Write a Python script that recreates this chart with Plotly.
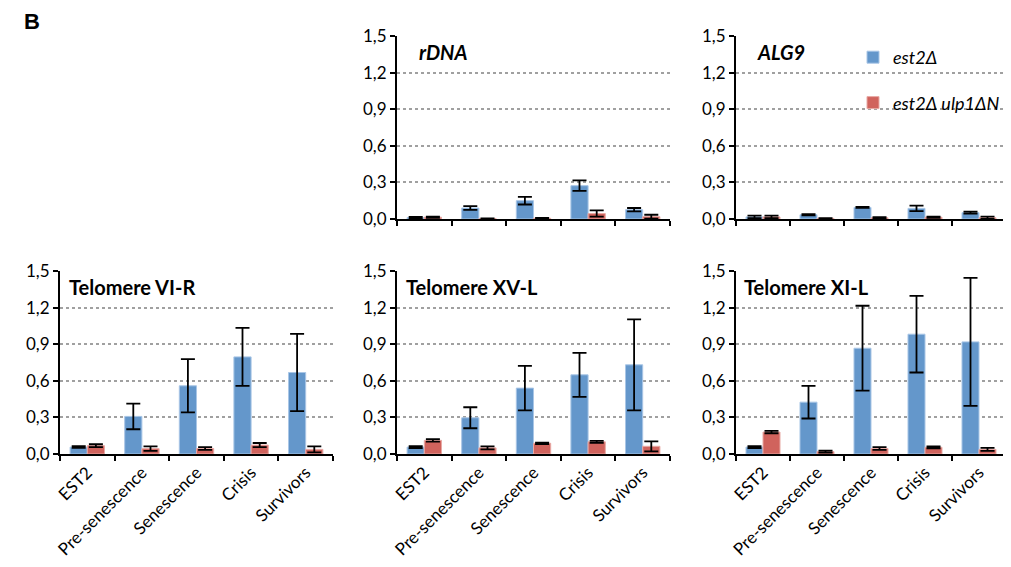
import plotly.graph_objects as go

categories = ["EST2", "Pre-senescence", "Senescence", "Crisis", "Survivors"]
series_names = ["est2Δ", "est2Δ ulp1ΔN"]

panel_titles = ["rDNA", "ALG9", "Telomere VI-R", "Telomere XV-L", "Telomere XI-L"]

rdna_est2 = [0.012, 0.09, 0.15, 0.273, 0.076]
rdna_est2_err = [0.005, 0.015, 0.031, 0.043, 0.014]
rdna_ulp1 = [0.015, 0.003, 0.006, 0.045, 0.019]
rdna_ulp1_err = [0.005, 0.002, 0.003, 0.026, 0.016]

alg9_est2 = [0.017, 0.035, 0.095, 0.087, 0.052]
alg9_est2_err = [0.01, 0.005, 0.004, 0.022, 0.008]
alg9_ulp1 = [0.017, 0.005, 0.01, 0.015, 0.01]
alg9_ulp1_err = [0.01, 0.002, 0.005, 0.005, 0.01]

vir_est2 = [0.057, 0.308, 0.559, 0.796, 0.668]
vir_est2_err = [0.007, 0.105, 0.218, 0.238, 0.316]
vir_ulp1 = [0.068, 0.044, 0.045, 0.073, 0.038]
vir_ulp1_err = [0.012, 0.019, 0.012, 0.017, 0.025]

xvl_est2 = [0.057, 0.297, 0.54, 0.649, 0.731]
xvl_est2_err = [0.008, 0.086, 0.183, 0.18, 0.373]
xvl_ulp1 = [0.112, 0.05, 0.088, 0.1, 0.063]
xvl_ulp1_err = [0.01, 0.012, 0.006, 0.008, 0.041]

xil_est2 = [0.057, 0.425, 0.867, 0.982, 0.919]
xil_est2_err = [0.008, 0.134, 0.348, 0.314, 0.524]
xil_ulp1 = [0.18, 0.02, 0.045, 0.055, 0.038]
xil_ulp1_err = [0.01, 0.008, 0.012, 0.008, 0.012]

y_ticks = [0.0, 0.3, 0.6, 0.9, 1.2, 1.5]

panels = [
    (rdna_est2, rdna_est2_err, rdna_ulp1, rdna_ulp1_err),
    (alg9_est2, alg9_est2_err, alg9_ulp1, alg9_ulp1_err),
    (vir_est2, vir_est2_err, vir_ulp1, vir_ulp1_err),
    (xvl_est2, xvl_est2_err, xvl_ulp1, xvl_ulp1_err),
    (xil_est2, xil_est2_err, xil_ulp1, xil_ulp1_err),
]

# page body has an 8px margin; lay out in window pixels and convert
OFF = 8
W, H = 1011 - OFF, 567 - OFF


def px(x):
    return (x - OFF) / W


def py(y):
    return (H - (y - OFF)) / H


BLUE = "#6497CB"
BLUE_EDGE = "#A9C6E6"
RED = "#D0635D"
RED_EDGE = "#E8A9A4"
FONT = "Lato"

# window-pixel boxes: (x0, x1, ytop, ybottom)
boxes = [
    (397, 670, 36, 219),
    (736, 1006, 36, 219),
    (60, 333, 271, 454),
    (397, 670, 271, 454),
    (736, 1006, 271, 454),
]
title_pos = [(417, 52, True), (755, 52, True), (67, 287, False), (404, 287, False), (742, 287, False)]

fig = go.Figure()
for i, (b, (e2, e2e, u1, u1e)) in enumerate(zip(boxes, panels)):
    n = "" if i == 0 else str(i + 1)
    xa, ya = "x" + n, "y" + n
    fig.add_trace(go.Bar(
        x=categories, y=e2, name=series_names[0], xaxis=xa, yaxis=ya,
        marker=dict(color=BLUE, line=dict(color=BLUE_EDGE, width=1)),
        error_y=dict(type="data", array=e2e, color="black", thickness=1.8, width=7),
        showlegend=(i == 0), legendgroup="a",
    ))
    fig.add_trace(go.Bar(
        x=categories, y=u1, name=series_names[1], xaxis=xa, yaxis=ya,
        marker=dict(color=RED, line=dict(color=RED_EDGE, width=1)),
        error_y=dict(type="data", array=u1e, color="black", thickness=1.8, width=7),
        showlegend=(i == 0), legendgroup="b",
    ))
    x0, x1, yt, yb = b
    top_row = i < 2
    fig.layout["xaxis" + n] = dict(
        domain=[px(x0), px(x1)], anchor=ya, type="category", automargin=False,
        showline=True, linecolor="black", linewidth=2,
        ticks="outside", tickson="boundaries", ticklen=5, tickwidth=2, tickcolor="black",
        showticklabels=not top_row, tickangle=-45,
        tickfont=dict(family=FONT, size=17, color="black"),
        showgrid=False, zeroline=False, fixedrange=True,
    )
    fig.layout["yaxis" + n] = dict(
        domain=[py(yb), py(yt)], anchor=xa, automargin=False,
        range=[0, 1.5], tickvals=y_ticks, tickformat=".1f",
        showline=True, linecolor="black", linewidth=2,
        ticks="outside", ticklen=5, tickwidth=2, tickcolor="black",
        tickfont=dict(family=FONT, size=17, color="black"),
        showgrid=True, gridcolor="#A0A0A0", griddash="dot", gridwidth=1.5,
        zeroline=False, fixedrange=True,
    )
    tx, ty, ital = title_pos[i]
    txt = panel_titles[i]
    fig.add_annotation(
        x=px(tx), y=py(ty), xref="paper", yref="paper",
        xanchor="left", yanchor="middle", showarrow=False,
        text=f"<b><i>{txt}</i></b>" if ital else f"<b>{txt}</b>",
        font=dict(family=FONT, size=20, color="black"),
    )

fig.add_annotation(
    x=px(23), y=1, xref="paper", yref="paper",
    xanchor="left", yanchor="top", showarrow=False, borderpad=0,
    text="<b>B</b>", font=dict(family="Liberation Sans", size=22, color="black"),
)

fig.update_layout(
    width=W, height=H,
    margin=dict(l=0, r=0, t=0, b=0, autoexpand=False),
    paper_bgcolor="white", plot_bgcolor="white",
    barmode="group", bargap=0.37, bargroupgap=0,
    separators=", ",
    showlegend=True,
    legend=dict(
        x=px(853), y=py(39), xanchor="left", yanchor="top",
        bgcolor="rgba(0,0,0,0)", tracegroupgap=19,
        font=dict(family=FONT, size=18, color="black", style="italic"),
        itemwidth=30,
    ),
)

fig.write_html("out.html")
